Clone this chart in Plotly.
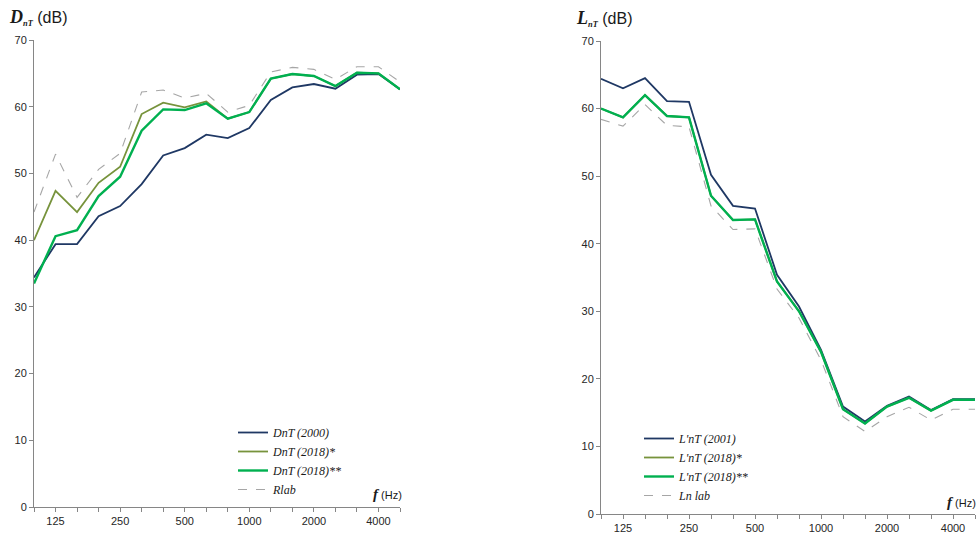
import plotly.graph_objects as go

freqs = [100, 125, 160, 200, 250, 315, 400, 500, 630, 800, 1000, 1250, 1600, 2000, 2500, 3150, 4000, 5000]
tick_labels = {125: "125", 250: "250", 500: "500", 1000: "1000", 2000: "2000", 4000: "4000"}

dnt_2000 = [34.4, 39.4, 39.4, 43.6, 45.1, 48.4, 52.7, 53.8, 55.8, 55.3, 56.8, 61.0, 62.9, 63.4, 62.7, 64.8, 64.9, 62.6]
dnt_2018_a = [40.0, 47.4, 44.2, 48.6, 51.0, 58.9, 60.6, 59.9, 60.8, 58.2, 59.2, 64.2, 64.9, 64.6, 63.1, 65.1, 65.0, 62.6]
dnt_2018_b = [33.5, 40.6, 41.5, 46.6, 49.5, 56.4, 59.6, 59.5, 60.5, 58.2, 59.2, 64.2, 64.9, 64.6, 63.1, 65.1, 65.0, 62.6]
rlab = [44.2, 52.9, 46.4, 50.6, 53.0, 62.2, 62.5, 61.3, 62.0, 59.2, 60.2, 65.2, 65.9, 65.6, 64.1, 66.0, 66.0, 63.7]

lnt_2001 = [64.4, 63.0, 64.5, 61.1, 61.0, 50.2, 45.6, 45.2, 35.4, 30.7, 24.3, 15.9, 13.7, 16.0, 17.4, 15.4, 17.0, 17.0]
lnt_2018_a = [60.0, 58.7, 62.0, 58.9, 58.7, 47.1, 43.5, 43.6, 34.4, 30.0, 24.0, 15.5, 13.4, 15.9, 17.2, 15.3, 16.9, 16.9]
lnt_2018_b = [60.0, 58.7, 62.0, 58.9, 58.7, 47.1, 43.5, 43.6, 34.4, 30.0, 24.0, 15.5, 13.4, 15.9, 17.2, 15.3, 16.9, 16.9]
ln_lab = [58.4, 57.4, 60.6, 57.5, 57.3, 45.6, 42.1, 42.2, 33.3, 29.0, 22.8, 14.4, 12.2, 14.4, 15.8, 13.9, 15.5, 15.5]

NAVY = "#1f3864"
OLIVE = "#77933c"
GREEN = "#00b050"
GRAY = "#a6a6a6"

x_idx = list(range(len(freqs)))
W, H = 978, 535

fig = go.Figure()

def add(y, name, color, width, dash, xa, ya, legend):
    fig.add_trace(go.Scatter(
        x=x_idx, y=y, name=name, mode="lines",
        line=dict(color=color, width=width, dash=dash),
        xaxis=xa, yaxis=ya, legend=legend,
    ))

add(dnt_2000, "<i>DnT (2000)</i>", NAVY, 1.8, "solid", "x", "y", "legend")
add(dnt_2018_a, "<i>DnT (2018)*</i>", OLIVE, 1.8, "solid", "x", "y", "legend")
add(dnt_2018_b, "<i>DnT (2018)**</i>", GREEN, 2.4, "solid", "x", "y", "legend")
add(rlab, "<i>Rlab</i>", GRAY, 1.1, "dash", "x", "y", "legend")

add(lnt_2001, "<i>L'nT (2001)</i>", NAVY, 1.8, "solid", "x2", "y2", "legend2")
add(lnt_2018_a, "<i>L'nT (2018)*</i>", OLIVE, 1.8, "solid", "x2", "y2", "legend2")
add(lnt_2018_b, "<i>L'nT (2018)**</i>", GREEN, 2.4, "solid", "x2", "y2", "legend2")
add(ln_lab, "<i>Ln lab</i>", GRAY, 1.1, "dash", "x2", "y2", "legend2")

label_idx = [i for i, f in enumerate(freqs) if f in tick_labels]
label_txt = [tick_labels[freqs[i]] for i in label_idx]
axis_font = dict(family="Liberation Sans, Arial, sans-serif", size=11, color="#262626")

def xaxis(domain, anchor):
    return dict(domain=domain, anchor=anchor, range=[0, len(freqs) - 1],
                tickmode="array", tickvals=label_idx, ticktext=label_txt,
                ticks="outside", ticklen=4, tickcolor="#868686",
                minor=dict(tickmode="array", tickvals=x_idx, ticks="outside", ticklen=4,
                           tickcolor="#868686", showgrid=False),
                showline=True, linecolor="#868686", linewidth=1,
                showgrid=False, zeroline=False, tickfont=axis_font, fixedrange=True,
                automargin=False)

def yaxis(domain, anchor):
    return dict(domain=domain, anchor=anchor, range=[0, 70], tickvals=list(range(0, 71, 10)),
                ticks="outside", ticklen=4, tickcolor="#868686", showline=True,
                linecolor="#868686", linewidth=1, showgrid=False, zeroline=False,
                tickfont=axis_font, fixedrange=True, automargin=False)

leg_common = dict(font=dict(family="Liberation Serif, Times New Roman, serif", size=12, color="#1a1a1a"),
                  bgcolor="rgba(0,0,0,0)", itemwidth=30, tracegroupgap=0,
                  xanchor="left", yanchor="top")

fig.update_layout(
    width=W, height=H,
    margin=dict(l=0, r=0, t=0, b=0, autoexpand=False),
    paper_bgcolor="white", plot_bgcolor="white",
    xaxis=xaxis([34 / W, 400 / W], "y"),
    yaxis=yaxis([1 - 507 / H, 1 - 40 / H], "x"),
    xaxis2=xaxis([601 / W, 975 / W], "y2"),
    yaxis2=yaxis([1 - 514 / H, 1 - 41 / H], "x2"),
    legend=dict(x=233 / W, y=1 - 418 / H, **leg_common),
    legend2=dict(x=639 / W, y=1 - 424 / H, **leg_common),
    showlegend=True,
)

title_left = ('<span style="font-family:Liberation Serif;font-size:18px"><b><i>D</i></b></span>'
              '<span style="font-family:Liberation Serif;font-size:12px"><b><i><sub>nT</sub></i></b></span>'
              ' (dB)')
title_right = ('<span style="font-family:Liberation Serif;font-size:18px"><b><i>L</i></b></span>'
               '<span style="font-family:Liberation Serif;font-size:12px"><b><i><sub>nT</sub></i></b></span>'
               ' (dB)')
f_label = '<span style="font-family:Liberation Serif;font-size:15px"><b><i>f</i></b></span> (Hz)'

ann_font = dict(family="Liberation Sans, Arial, sans-serif", size=16, color="#1a1a1a")
fig.add_annotation(text=title_left, x=7 / W, y=1 - 18 / H, xref="paper", yref="paper",
                   xanchor="left", yanchor="middle", showarrow=False, font=ann_font)
fig.add_annotation(text=title_right, x=574 / W, y=1 - 19 / H, xref="paper", yref="paper",
                   xanchor="left", yanchor="middle", showarrow=False, font=ann_font)
fig.add_annotation(text=f_label, x=404 / W, y=1 - 494 / H, xref="paper", yref="paper",
                   xanchor="right", yanchor="middle", showarrow=False, font=dict(ann_font, size=11))
fig.add_annotation(text=f_label, x=978 / W, y=1 - 502 / H, xref="paper", yref="paper",
                   xanchor="right", yanchor="middle", showarrow=False, font=dict(ann_font, size=11))

fig.write_html("out.html", config={"displayModeBar": False},
               post_script="document.body.style.margin='0';document.body.style.overflow='hidden';")
